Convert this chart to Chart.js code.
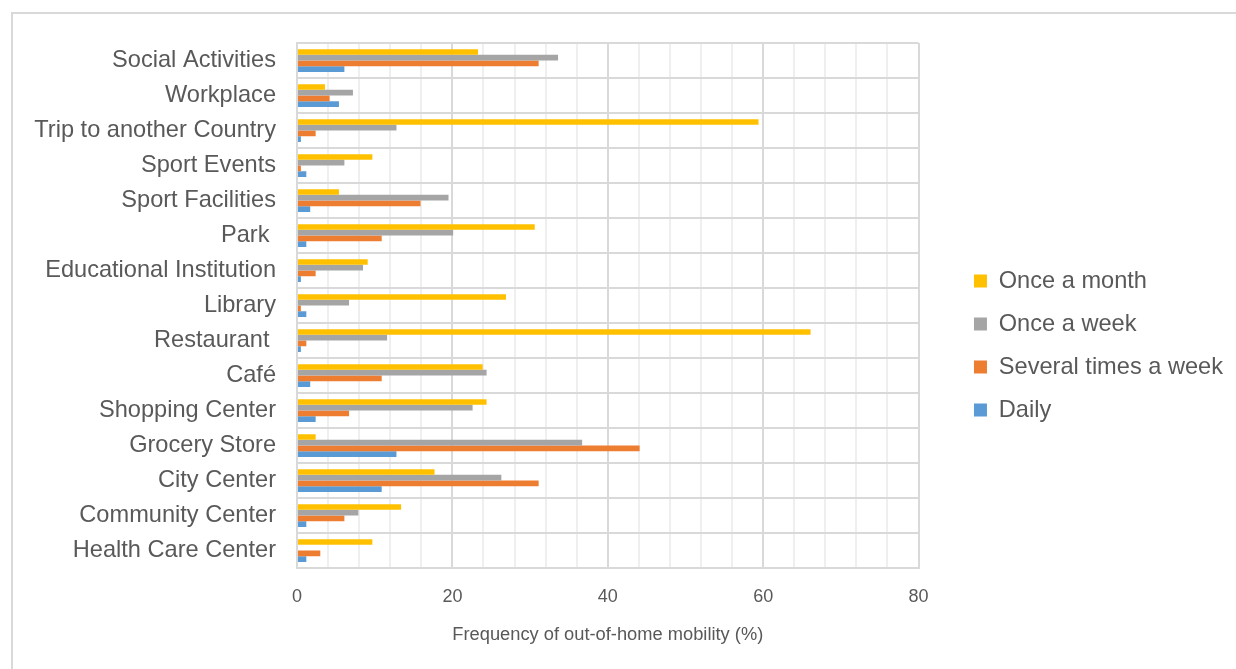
<!DOCTYPE html>
<html>
<head>
<meta charset="utf-8">
<script src="https://cdn.jsdelivr.net/npm/chart.js@4.4.1/dist/chart.umd.min.js"></script>
<style>
  html, body { margin: 0; padding: 0; background: #ffffff; }
  #wrap { position: relative; width: 1236px; height: 669px; overflow: hidden; }
  #frame { position: absolute; left: 11px; top: 12px; width: 1400px; height: 800px;
           border-left: 2px solid #d9d9d9; border-top: 2px solid #d9d9d9; }
  #c { position: absolute; left: 0; top: 0; }
</style>
</head>
<body>
<div id="wrap">
  <div id="frame"></div>
  <canvas id="c" width="1236" height="669"></canvas>
</div>
<script>
// Places visited, listed top to bottom
const places = [
  'Social Activities', 'Workplace', 'Trip to another Country', 'Sport Events',
  'Sport Facilities', 'Park ', 'Educational Institution', 'Library',
  'Restaurant ', 'Café', 'Shopping Center', 'Grocery Store', 'City Center',
  'Community Center', 'Health Care Center'
];

// Share of respondents (%) per visiting frequency
const onceAMonth       = [23.3, 3.6, 59.4, 9.7, 5.4, 30.6, 9.1, 26.9, 66.1, 23.9, 24.4, 2.4, 17.7, 13.4, 9.7];
const onceAWeek        = [33.6, 7.2, 12.8, 6.1, 19.5, 20.1, 8.5, 6.7, 11.6, 24.4, 22.6, 36.7, 26.3, 7.9, 0];
const severalTimesWeek = [31.1, 4.2, 2.4, 0.5, 15.9, 10.9, 2.4, 0.5, 1.2, 10.9, 6.7, 44.1, 31.1, 6.1, 3.0];
const daily            = [6.1, 5.4, 0.5, 1.2, 1.7, 1.2, 0.5, 1.2, 0.5, 1.7, 2.4, 12.8, 10.9, 1.2, 1.2];

const seriesNames  = ['Once a month', 'Once a week', 'Several times a week', 'Daily'];
const seriesColors = ['#FFC000', '#A5A5A5', '#ED7D31', '#5B9BD5'];
const seriesValues = [onceAMonth, onceAWeek, severalTimesWeek, daily];

const xTickValues = [0, 20, 40, 60, 80];
const axisTitle = 'Frequency of out-of-home mobility (%)';

const textColor = '#595959';
const sansFamily = "'Liberation Sans', Arial, sans-serif";

// Keeps the legend a fixed distance to the right of the plot area
const legendOffset = {
  id: 'legendOffset',
  afterLayout(chart) {
    const lg = chart.legend;
    if (!lg) return;
    const w = lg.right - lg.left;
    lg.left = chart.chartArea.right + 36;
    lg.right = lg.left + w;
  }
};

new Chart(document.getElementById('c'), {
  type: 'bar',
  data: {
    labels: places,
    datasets: seriesNames.map((name, i) => ({
      label: name,
      data: seriesValues[i],
      backgroundColor: seriesColors[i],
      borderWidth: 0,
      categoryPercentage: 0.65,
      barPercentage: 1.0
    }))
  },
  options: {
    indexAxis: 'y',
    responsive: false,
    animation: false,
    layout: { padding: { top: 43, bottom: 21, left: 0, right: 39 } },
    plugins: {
      legend: {
        position: 'right',
        align: 'center',
        labels: {
          boxWidth: 13,
          boxHeight: 13,
          padding: 19.4,
          color: textColor,
          font: { family: sansFamily, size: 23.6 }
        }
      },
      tooltip: { enabled: false }
    },
    scales: {
      x: {
        min: 0,
        max: 80,
        afterBuildTicks(scale) {
          const t = [];
          for (let v = 0; v <= 80; v += 4) t.push({ value: v });
          scale.ticks = t;
        },
        afterFit(scale) { scale.height = 80; },
        ticks: {
          autoSkip: false,
          maxRotation: 0,
          padding: 18,
          color: textColor,
          font: { family: sansFamily, size: 18 },
          callback: (v) => (xTickValues.includes(v) ? String(v) : '')
        },
        grid: {
          drawTicks: false,
          color: (ctx) => (ctx.tick && ctx.tick.value % 20 === 0 ? '#d9d9d9' : '#efefef'),
          lineWidth: 2
        },
        border: { color: '#d9d9d9', width: 2 },
        title: {
          display: true,
          text: axisTitle,
          color: textColor,
          font: { family: sansFamily, size: 18.3 },
          padding: { top: 4, bottom: 2 }
        }
      },
      y: {
        afterFit(scale) { scale.width = 297; },
        ticks: {
          padding: 21,
          color: textColor,
          font: { family: sansFamily, size: 23.6 }
        },
        grid: {
          drawTicks: false,
          offset: true,
          color: '#d9d9d9',
          lineWidth: 2
        },
        border: { color: '#d9d9d9', width: 2 }
      }
    }
  },
  plugins: [legendOffset]
});
</script>
</body>
</html>
